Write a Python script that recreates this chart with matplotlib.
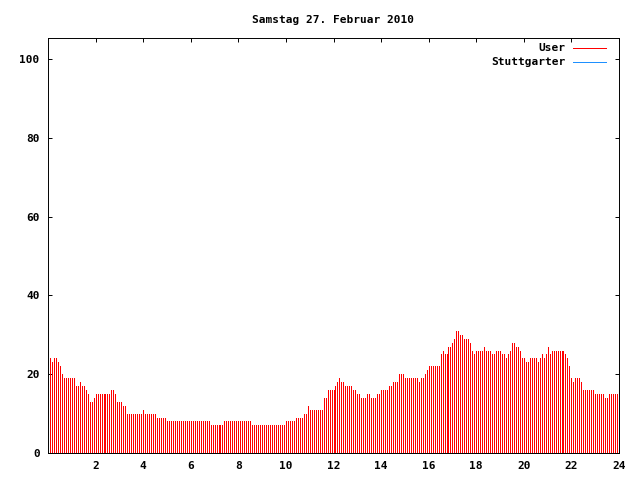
import matplotlib
matplotlib.use("Agg")
import matplotlib.pyplot as plt
from matplotlib.lines import Line2D

title = "Samstag 27. Februar 2010"
series_names = ["User", "Stuttgarter"]
series_colors = ["#ff0000", "#1e90ff"]

# User: one value every 5 minutes, first sample at 00:05
user_values = [
    24, 23, 24, 24, 23, 22, 20, 19, 19, 19,
    19, 19, 19, 17, 17, 18, 17, 17, 16, 15,
    13, 13, 14, 15, 15, 15, 15, 15, 15, 15,
    15, 16, 16, 15, 13, 13, 13, 12, 12, 10,
    10, 10, 10, 10, 10, 10, 10, 11, 10, 10,
    10, 10, 10, 10, 9, 9, 9, 9, 9, 8,
    8, 8, 8, 8, 8, 8, 8, 8, 8, 8,
    8, 8, 8, 8, 8, 8, 8, 8, 8, 8,
    8, 7, 7, 7, 7, 7, 7, 7, 8, 8,
    8, 8, 8, 8, 8, 8, 8, 8, 8, 8,
    8, 8, 7, 7, 7, 7, 7, 7, 7, 7,
    7, 7, 7, 7, 7, 7, 7, 7, 7, 8,
    8, 8, 8, 8, 9, 9, 9, 9, 10, 10,
    12, 11, 11, 11, 11, 11, 11, 11, 14, 14,
    16, 16, 16, 16, 17, 18, 19, 18, 18, 17,
    17, 17, 17, 16, 16, 15, 15, 14, 14, 14,
    15, 15, 14, 14, 14, 15, 15, 16, 16, 16,
    16, 17, 17, 18, 18, 18, 20, 20, 20, 19,
    19, 19, 19, 19, 19, 19, 18, 19, 19, 20,
    21, 22, 22, 22, 22, 22, 22, 25, 26, 25,
    25, 27, 27, 28, 29, 31, 31, 30, 30, 29,
    29, 29, 28, 26, 25, 26, 26, 26, 26, 27,
    26, 26, 26, 25, 25, 26, 26, 26, 25, 25,
    24, 25, 26, 28, 28, 27, 27, 26, 24, 24,
    23, 23, 24, 24, 24, 24, 23, 24, 25, 24,
    25, 27, 25, 26, 26, 26, 26, 26, 26, 26,
    25, 24, 22, 19, 18, 19, 19, 19, 18, 16,
    16, 16, 16, 16, 16, 15, 15, 15, 15, 15,
    14, 14, 15, 15, 15, 15, 15, 15,
]
# Stuttgarter has a key entry but no samples on this day
stuttgarter_values = []

xticks = list(range(2, 25, 2))
yticks = list(range(0, 101, 20))

user_times = [(i + 1) * 5 / 60 for i in range(len(user_values))]
stuttgarter_times = [(i + 1) * 5 / 60 for i in range(len(stuttgarter_values))]

font = {"family": "DejaVu Sans Mono", "weight": "bold", "size": 8}

fig = plt.figure(figsize=(6.4, 4.8), dpi=100)
ax = fig.add_axes([48 / 640, 27 / 480, 571 / 640, 415 / 480])

ax.vlines(user_times, 0, user_values, colors=series_colors[0],
          linewidth=0.5, antialiased=False)
if stuttgarter_values:
    ax.vlines(stuttgarter_times, 0, stuttgarter_values, colors=series_colors[1],
              linewidth=0.5, antialiased=False)

ax.set_xlim(0, 24)
ax.set_ylim(0, 105.3)
ax.set_xticks(xticks)
ax.set_yticks(yticks)
ax.set_xticklabels([str(x) for x in xticks], fontdict=font)
ax.set_yticklabels([str(y) for y in yticks], fontdict=font)
ax.tick_params(direction="in", length=3, width=0.7, top=True, right=True, pad=6)
for s in ax.spines.values():
    s.set_linewidth(0.7)

ax.set_title(title, fontdict=font, pad=11)

# key, top right, text right aligned with sample line after it
key_y = [0.976, 0.942]
for name, col, y in zip(series_names, series_colors, key_y):
    ax.text(0.906, y, name, transform=ax.transAxes, ha="right", va="center", **font)
    ax.add_line(Line2D([0.920, 0.978], [y, y], transform=ax.transAxes,
                       color=col, linewidth=0.5, antialiased=False))

fig.savefig("out.png", dpi=100)
